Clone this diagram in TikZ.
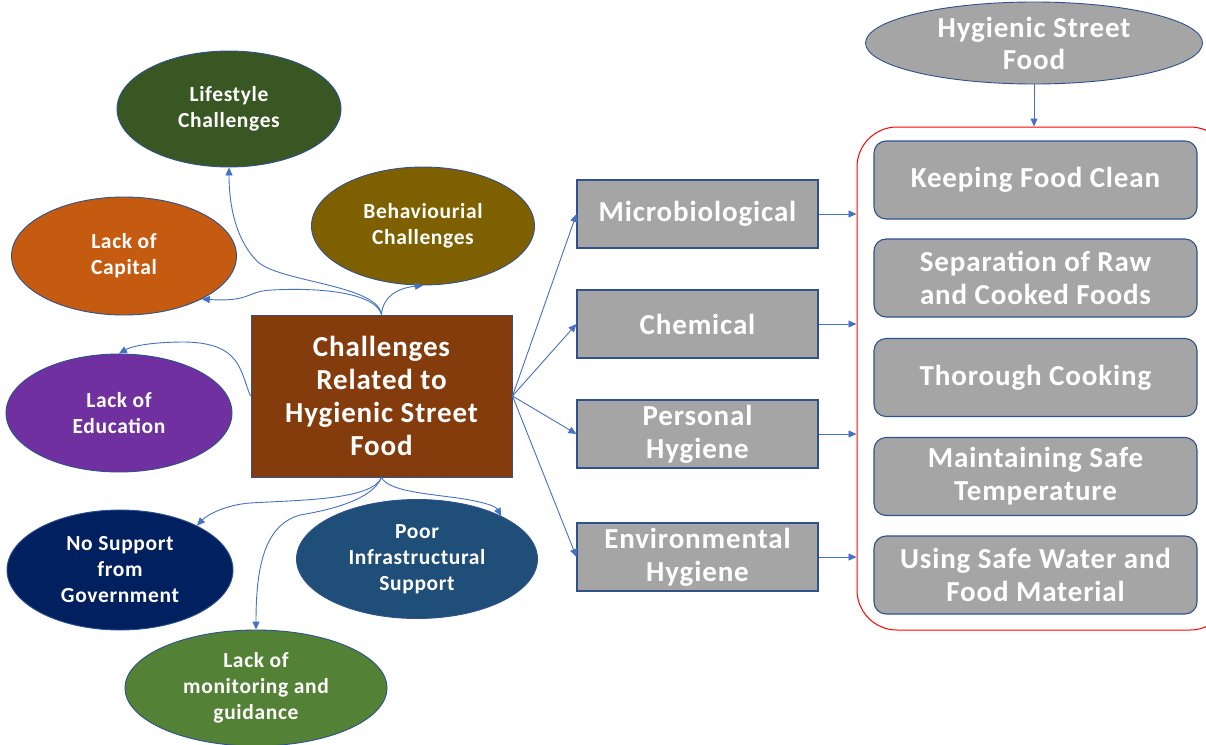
\documentclass[tikz,border=0pt]{standalone}
\usepackage{fontspec}
\setmainfont{Carlito}[LetterSpace=3]
\usetikzlibrary{shapes.geometric,arrows.meta}
\definecolor{ablue}{HTML}{4472C4}
\definecolor{bblue}{HTML}{2F528F}
\definecolor{gbox}{HTML}{A5A5A5}
\definecolor{clife}{HTML}{385723}
\definecolor{ccap}{HTML}{C55A11}
\definecolor{cbeh}{HTML}{7F6000}
\definecolor{cedu}{HTML}{7030A0}
\definecolor{cnos}{HTML}{002060}
\definecolor{cpoor}{HTML}{1F4E79}
\definecolor{cmon}{HTML}{538135}
\definecolor{ccen}{HTML}{843C0C}
\begin{document}
\begin{tikzpicture}[x=1pt,y=-1pt,
  oval/.style={ellipse,draw=bblue,line width=0.9pt,inner sep=0pt,text=white,
    font=\bfseries\fontsize{21.5}{26}\selectfont,align=center},
  graybox/.style={rectangle,draw=bblue,line width=1.1pt,fill=gbox,text=white,
    font=\bfseries\fontsize{29}{33}\selectfont,align=center,
    minimum width=241pt,minimum height=68pt,inner sep=0pt},
  roundbox/.style={rectangle,rounded corners=12pt,draw=bblue,line width=1.1pt,fill=gbox,text=white,
    font=\bfseries\fontsize{29}{33}\selectfont,align=center,
    minimum width=323pt,minimum height=78pt,inner sep=0pt},
  conn/.style={draw=ablue,line width=0.9pt,-{Triangle[length=8pt,width=7pt]}}
]
\clip (0,0) rectangle (1206,744);
\fill[white] (0,0) rectangle (1206,744);

% red container
\node[draw=red,line width=1pt,rounded corners=40pt,minimum width=373pt,minimum height=503pt,inner sep=0pt] (cont) at (1043.5,378.5) {};

% left ellipses
\node[oval,fill=clife,minimum width=224pt,minimum height=116pt] (life) at (229,109) {Lifestyle\\Challenges};
\node[oval,fill=ccap,minimum width=225pt,minimum height=118pt] (cap) at (124,256) {Lack of\\Capital};
\node[oval,fill=cbeh,minimum width=223pt,minimum height=118pt] (beh) at (423,226) {Behaviourial\\Challenges};
\node[oval,fill=cedu,minimum width=226pt,minimum height=118pt] (edu) at (119,413) {Lack of\\Education};
\node[oval,fill=cnos,minimum width=226pt,minimum height=120pt] (nos) at (120,570) {No Support\\from\\Government};
\node[oval,fill=cpoor,minimum width=241pt,minimum height=119pt] (poor) at (417,559) {Poor\\Infrastructural\\Support};
\node[oval,fill=cmon,minimum width=262pt,minimum height=116pt] (mon) at (256,688) {Lack of\\monitoring and\\guidance};

% centre
\node[rectangle,draw=bblue,line width=1pt,fill=ccen,text=white,minimum width=261pt,minimum height=162pt,inner sep=0pt,
  font=\bfseries\fontsize{29}{33}\selectfont,align=center] (cen) at (381.5,396) {Challenges\\Related to\\Hygienic Street\\Food};

% gray boxes
\node[graybox] (mic) at (697.5,214) {Microbiological};
\node[graybox] (che) at (697.5,324) {Chemical};
\node[graybox] (per) at (697.5,434) {Personal\\Hygiene};
\node[graybox] (env) at (697.5,557) {Environmental\\Hygiene};

% right boxes
\node[roundbox] (r1) at (1035.5,180) {Keeping Food Clean};
\node[roundbox] (r2) at (1035.5,278) {Separation of Raw\\and Cooked Foods};
\node[roundbox] (r3) at (1035.5,377.5) {Thorough Cooking};
\node[roundbox] (r4) at (1035.5,476.5) {Maintaining Safe\\Temperature};
\node[roundbox] (r5) at (1035.5,575) {Using Safe Water and\\Food Material};

% top ellipse
\node[ellipse,draw=bblue,line width=0.9pt,fill=gbox,inner sep=0pt,text=white,minimum width=337pt,minimum height=82pt,
  font=\bfseries\fontsize{29}{32}\selectfont,align=center] (hsf) at (1034,43) {Hygienic Street\\Food};

% connectors
\draw[conn] (hsf.south) -- (hsf.south |- cont.north);
\draw[conn] (mic.east) -- (mic.east -| cont.west);
\draw[conn] (che.east) -- (che.east -| cont.west);
\draw[conn] (per.east) -- (per.east -| cont.west);
\draw[conn] (env.east) -- (env.east -| cont.west);

\draw[conn] (cen.east) -- (mic.west);
\draw[conn] (cen.east) -- (che.west);
\draw[conn] (cen.east) -- (per.west);
\draw[conn] (cen.east) -- (env.west);

\draw[conn] (cen.north) .. controls (378,285) and (280,282) .. (258,262) .. controls (238,243) and (229,210) .. (life.south);
\draw[conn] (cen.north) .. controls (376,295) and (330,287) .. (272,290) .. controls (246,291) and (252,302) .. (cap.-29);
\draw[conn] (cen.north) .. controls (383,296) and (398,288) .. (beh.south);
\draw[conn] (cen.west) .. controls (240,372) and (242,343) .. (185,342) .. controls (152,342) and (132,346) .. (edu.north);
\draw[conn] (cen.south) .. controls (372,500) and (300,500) .. (250,503) .. controls (225,505) and (207,515) .. (nos.30);
\draw[conn] (cen.south) .. controls (372,500) and (330,510) .. (300,515) .. controls (265,525) and (256,565) .. (mon.north);
\draw[conn] (cen.south) .. controls (388,490) and (420,493) .. (450,497) .. controls (475,500) and (495,505) .. (poor.27);
\end{tikzpicture}
\end{document}
